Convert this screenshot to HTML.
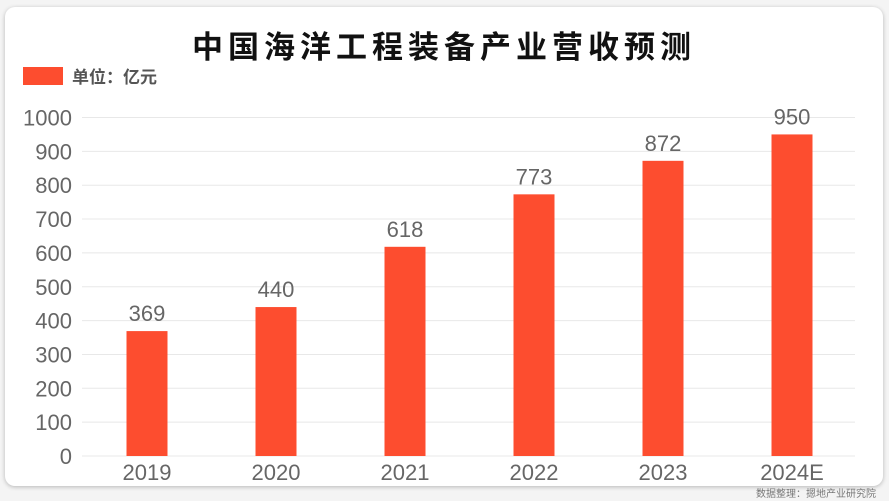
<!DOCTYPE html>
<html><head><meta charset="utf-8"><style>
body{margin:0;background:#f4f4f4;width:889px;height:501px;overflow:hidden;font-family:"Liberation Sans","Noto Sans CJK SC",sans-serif}
#card{position:absolute;left:5px;top:7px;width:878px;height:479px;background:#fff;border-radius:10px;box-shadow:0 1px 4px rgba(0,0,0,0.25)}
</style></head><body>
<div id="card"></div>
<svg id="c" width="889" height="501" style="position:absolute;left:0;top:0">
<text x="444" y="58" text-anchor="middle" font-size="31" font-weight="bold" fill="#111" letter-spacing="5" font-family="Liberation Sans,Noto Sans CJK SC,sans-serif">中国海洋工程装备产业营收预测</text>
<rect x="23" y="67" width="40" height="18" fill="#fd4d2f"/>
<text x="72" y="83" font-size="17" font-weight="bold" fill="#555" font-family="Liberation Sans,Noto Sans CJK SC,sans-serif">单位：亿元</text>
<text x="876" y="497" text-anchor="end" font-size="10" fill="#777" font-family="Liberation Sans,Noto Sans CJK SC,sans-serif">数据整理：摁地产业研究院</text>
<g id="grid"></g><g id="bars"></g>
</svg>
<script>
const categories=["2019","2020","2021","2022","2023","2024E"];
const values=[369,440,618,773,872,950];
const ticks=[0,100,200,300,400,500,600,700,800,900,1000];
const NS="http://www.w3.org/2000/svg";
const y=v=>456-v*0.3385;
const x=i=>147+i*129;
const grid=document.getElementById('grid'),bars=document.getElementById('bars');
function mk(t,a,p){const e=document.createElementNS(NS,t);for(const k in a)e.setAttribute(k,a[k]);p.appendChild(e);return e;}
ticks.forEach(t=>{
  const l=mk('line',{x1:82,x2:855,y1:y(t),y2:y(t),stroke:'#e8e8e8','stroke-width':1},grid);
  
  
  const tx=mk('text',{x:72,y:y(t)+8,'text-anchor':'end','font-size':22,fill:'#666'},grid);
  tx.textContent=t;
  
  
});
categories.forEach((c,i)=>{
  const r=mk('rect',{x:x(i)-20.5,y:y(values[i]),width:41,height:456-y(values[i]),fill:'#fd4d2f'},bars);
  
  
  const v=mk('text',{x:x(i),y:y(values[i])-10,'text-anchor':'middle','font-size':22,fill:'#666'},bars);
  v.textContent=values[i];
  
  
  const l=mk('text',{x:x(i),y:480,'text-anchor':'middle','font-size':22,fill:'#666'},bars);
  l.textContent=c;
  
  
});
</script>
</body></html>
